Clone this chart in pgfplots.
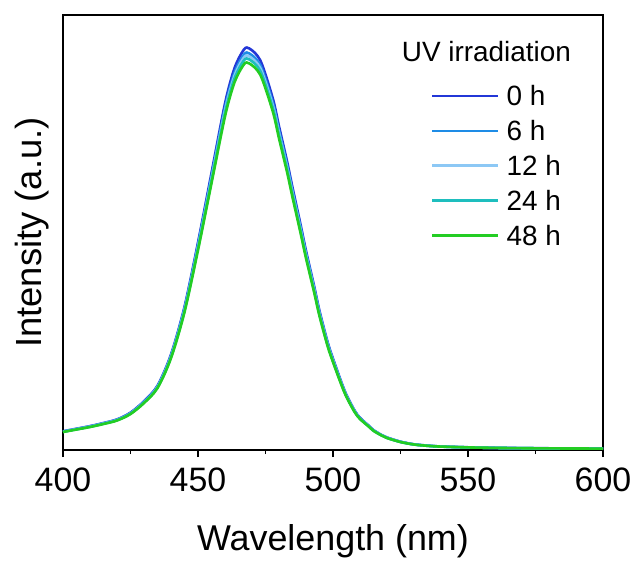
\documentclass[border=0pt]{standalone}
\usepackage{fontspec}
\setmainfont{Liberation Sans}
\usepackage{pgfplots}
\usepackage{pgfplotstable}
\pgfplotsset{compat=1.18}
\definecolor{c0}{RGB}{35,55,215}
\definecolor{c6}{RGB}{30,140,230}
\definecolor{c12}{RGB}{140,200,245}
\definecolor{c24}{RGB}{30,190,190}
\definecolor{c48}{RGB}{35,205,35}

\pgfplotstableread{
x   h0    h6    h12   h24   h48
400 18.7  18.5  18.3  18.2  18
405 21.3  21.0  20.9  20.7  20.5
410 23.9  23.6  23.4  23.2  23
415 27.0  26.7  26.5  26.3  26
420 30.6  30.3  30.0  29.8  29.5
425 37.4  36.9  36.6  36.4  36
430 48.8  48.2  47.8  47.5  47
435 64.4  63.6  63.1  62.6  62
440 95.6  94.4  93.7  92.9  92
445 143.3 141.6 140.5 139.4 138
450 207.7 205.2 203.6 202.1 200
455 277.3 273.9 271.8 269.8 267
460 346.9 342.6 340.0 337.4 334
463 378.1 373.4 370.6 367.8 364
465 391.6 386.7 383.8 380.9 377
467 400.9 395.9 393.0 390.0 386
468 403.0 398.0 395.0 392.0 388
469 402.0 397.0 394.0 391.0 387
471 397.8 392.9 389.9 386.9 383
473 390.5 385.7 382.8 379.9 376
475 376.0 371.3 368.5 365.7 362
478 349.0 344.7 342.1 339.5 336
480 324.1 320.0 317.6 315.2 312
483 288.7 285.2 283.0 280.9 278
485 262.8 259.5 257.6 255.6 253
488 225.4 222.6 220.9 219.2 217
490 199.4 196.9 195.5 194.0 192
493 164.1 162.1 160.9 159.6 158
495 139.2 137.5 136.4 135.4 134
498 108.0 106.7 105.9 105.1 104
500 91.4  90.3  89.6  88.9  88
503 68.6  67.7  67.2  66.7  66
505 55.0  54.4  54.0  53.5  53
508 39.5  39.0  38.7  38.4  38
510 32.2  31.8  31.6  31.3  31
513 24.9  24.6  24.4  24.2  24
515 19.9  19.7  19.5  19.4  19.2
518 15.0  14.9  14.8  14.6  14.5
520 12.5  12.3  12.2  12.1  12
525 8.3   8.2   8.1   8.0   8
530 5.7   5.6   5.5   5.5   5.5
535 4.4   4.3   4.2   4.2   4.2
540 3.5   3.5   3.4   3.4   3.4
550 2.7   2.6   2.6   2.6   2.6
560 2.2   2.1   2.1   2.1   2.1
570 1.9   1.8   1.8   1.8   1.8
580 1.7   1.6   1.6   1.6   1.6
590 1.6   1.5   1.5   1.5   1.5
600 1.5   1.4   1.4   1.4   1.4
}\spectra

\begin{document}
\begin{tikzpicture}
\begin{axis}[
  at={(0,0)}, anchor=south west,
  scale only axis, width=540bp, height=435bp,
  xmin=400, xmax=600, ymin=0, ymax=435.5,
  xtick={400,450,...,600}, minor xtick={425,475,525,575},
  ytick=\empty,
  xtick pos=bottom, tick align=outside,
  major tick length=7bp, minor tick length=4bp,
  every tick/.style={black, line width=1.6bp},
  axis line style={line width=1.8bp},
  /pgf/number format/assume math mode=true,
  xticklabel style={font=\fontsize{34}{40}\selectfont, anchor=north, inner sep=0pt, yshift=-11bp},
  xlabel={Wavelength (nm)},
  ylabel={Intensity (a.u.)},
  xlabel style={font=\fontsize{36}{42}\selectfont, at={(rel axis cs:0.5,0)}, anchor=base, yshift=-100bp, inner sep=0pt},
  ylabel style={font=\fontsize{36.5}{42}\selectfont, at={(axis description cs:-0.0394,0.5)}, anchor=base, inner sep=0pt},
  legend style={font=\fontsize{28}{33}\selectfont, draw=none, fill=none, inner sep=0pt,
    at={(rel axis cs:0.681,0.836)}, anchor=north west,
    nodes={inner sep=0pt, text height=19.3bp, text depth=0pt},
    row sep=15.5bp, column sep=7bp},
  legend cell align=left,
  legend image code/.code={\draw[#1] (0bp,0bp) -- (66bp,0bp);},
  every axis plot/.append style={line width=2.6bp, line join=round, smooth},
]
\addplot[c0]  table[x=x, y=h0]  {\spectra};
\addplot[c6]  table[x=x, y=h6]  {\spectra};
\addplot[c12] table[x=x, y=h12] {\spectra};
\addplot[c24] table[x=x, y=h24] {\spectra};
\addplot[c48] table[x=x, y=h48] {\spectra};
\legend{0 h, 6 h, 12 h, 24 h, 48 h}
\node[anchor=base, font=\fontsize{28}{33}\selectfont, inner sep=0pt] at (rel axis cs:0.784,0.892) {UV irradiation};
\end{axis}
\pgfresetboundingbox
\path (-63bp,-113bp) rectangle (575bp,450bp);
\end{tikzpicture}
\end{document}
